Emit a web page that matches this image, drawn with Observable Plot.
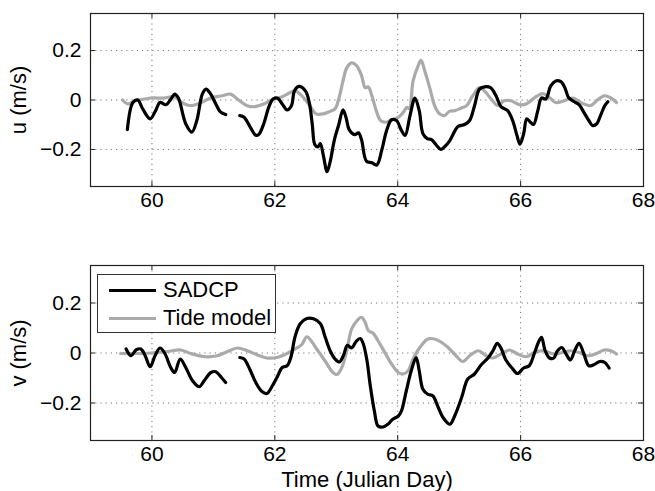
<!DOCTYPE html>
<html><head><meta charset="utf-8">
<script src="https://cdn.jsdelivr.net/npm/d3@7"></script>
<script src="https://cdn.jsdelivr.net/npm/@observablehq/plot@0.6"></script>
<style>
body{margin:0;background:#fff;}
#wrap{position:relative;width:655px;height:491px;font-family:"Liberation Sans",Arial,Helvetica,sans-serif;background:#fff;}
#wrap svg{display:block;}
#wrap svg g[aria-label="x-axis tick label"], #wrap svg g[aria-label="y-axis tick label"]{font-size:21px !important;}
#wrap svg g[aria-label="x-axis tick label"] text, #wrap svg g[aria-label="y-axis tick label"] text{font-size:21px !important;}
#wrap svg g[aria-label="x-axis label"] text, #wrap svg g[aria-label="y-axis label"] text{font-size:22px !important;}
#legend{position:absolute;left:97px;top:274px;width:177px;height:57px;border:1px solid #333;background:#fff;font-size:22px;color:#000;}
.lg-line{position:absolute;left:11px;width:47px;height:3px;}
.lg-text{position:absolute;left:65px;line-height:24px;white-space:nowrap;}
</style>
</head><body>
<div id="wrap"><div id="top"></div><div id="bottom"></div>
<div id="legend"></div></div>
<script>
const xTicks = [60, 62, 64, 66, 68];
const yTicks = [-0.2, 0, 0.2];
const seriesNames = ["SADCP", "Tide model"];
const seriesColors = ["#000000", "#aaaaaa"];

// u component: [day, m/s]; null = gap in record
const uSadcp = [[59.60,-0.12],[59.69,-0.01],[59.77,0.00],[59.85,-0.036],[59.97,-0.076],[60.06,-0.043],[60.13,-0.01],[60.23,-0.019],[60.31,0.004],[60.37,0.024],[60.43,0.008],[60.55,-0.096],[60.65,-0.13],[60.73,-0.083],[60.82,0.024],[60.88,0.044],[60.94,0.03],[61.04,-0.016],[61.11,-0.047],[61.20,-0.059],
[61.3,null],
[61.43,-0.063],[61.50,-0.07],[61.60,-0.11],[61.69,-0.143],[61.74,-0.139],[61.82,-0.096],[61.90,-0.03],[61.97,0.004],[62.04,0.008],[62.12,-0.016],[62.20,-0.04],[62.27,-0.023],[62.32,0.037],[62.39,0.055],[62.50,0.036],[62.56,-0.01],[62.61,-0.10],[62.65,-0.18],[62.70,-0.19],[62.74,-0.176],[62.79,-0.225],[62.85,-0.29],[62.90,-0.25],[62.97,-0.16],[63.04,-0.10],[63.11,-0.04],[63.16,-0.072],[63.21,-0.12],[63.30,-0.14],[63.36,-0.133],[63.41,-0.16],[63.49,-0.247],[63.58,-0.254],[63.66,-0.263],[63.74,-0.203],[63.82,-0.123],[63.90,-0.08],[63.98,-0.083],[64.06,-0.123],[64.12,-0.143],[64.20,-0.063],[64.28,0.008],[64.35,-0.043],[64.41,-0.136],[64.48,-0.156],[64.55,-0.16],[64.63,-0.183],[64.70,-0.2],[64.76,-0.19],[64.85,-0.163],[64.93,-0.125],[64.98,-0.107],[65.09,-0.099],[65.17,-0.083],[65.25,-0.023],[65.33,0.044],[65.41,0.053],[65.51,0.05],[65.60,0.017],[65.68,-0.027],[65.79,-0.043],[65.87,-0.083],[65.94,-0.143],[65.99,-0.179],[66.05,-0.136],[66.10,-0.076],[66.16,-0.09],[66.21,-0.099],[66.28,-0.043],[66.34,0.008],[66.41,0.004],[66.49,0.057],[66.57,0.077],[66.65,0.075],[66.72,0.05],[66.78,0.01],[66.86,-0.005],[66.95,-0.019],[67.03,-0.05],[67.11,-0.083],[67.17,-0.103],[67.24,-0.096],[67.30,-0.063],[67.37,-0.023],[67.42,-0.007]];

const uTide = [[59.52,0.0],[59.61,-0.016],[59.71,-0.005],[59.88,0.004],[60.01,0.008],[60.20,0.008],[60.36,0.013],[60.49,-0.01],[60.63,-0.023],[60.77,-0.014],[60.96,0.008],[61.14,0.017],[61.28,0.024],[61.41,0.0],[61.55,-0.023],[61.68,-0.027],[61.82,-0.016],[61.95,0.0],[62.12,0.013],[62.25,0.03],[62.33,0.037],[62.44,0.017],[62.57,-0.023],[62.67,-0.056],[62.79,-0.056],[62.90,-0.046],[62.98,-0.036],[63.04,0.004],[63.11,0.077],[63.17,0.13],[63.25,0.15],[63.33,0.139],[63.41,0.10],[63.47,0.05],[63.52,0.053],[63.58,0.017],[63.65,-0.043],[63.72,-0.083],[63.80,-0.09],[63.90,-0.08],[64.01,-0.07],[64.09,-0.05],[64.15,-0.03],[64.19,-0.035],[64.25,0.077],[64.33,0.137],[64.38,0.16],[64.44,0.117],[64.52,0.05],[64.60,-0.023],[64.68,-0.056],[64.76,-0.063],[64.84,-0.046],[64.93,-0.043],[65.04,-0.032],[65.12,-0.023],[65.22,0.017],[65.33,0.05],[65.41,0.037],[65.52,0.004],[65.63,-0.023],[65.73,-0.003],[65.84,-0.003],[65.98,-0.019],[66.09,-0.016],[66.22,0.008],[66.36,0.026],[66.47,0.01],[66.57,-0.01],[66.71,-0.003],[66.85,0.008],[67.01,-0.014],[67.14,-0.023],[67.25,0.0],[67.36,0.017],[67.47,0.008],[67.56,-0.01]];

// v component
const vSadcp = [[59.58,0.016],[59.66,-0.011],[59.74,0.012],[59.82,0.016],[59.89,-0.011],[59.97,-0.055],[60.05,-0.011],[60.13,0.02],[60.21,-0.002],[60.31,-0.06],[60.37,-0.078],[60.46,-0.024],[60.55,-0.058],[60.66,-0.111],[60.77,-0.135],[60.85,-0.111],[60.96,-0.078],[61.04,-0.075],[61.13,-0.098],[61.20,-0.118],
[61.3,null],
[61.43,-0.018],[61.50,-0.024],[61.59,-0.064],[61.69,-0.118],[61.79,-0.154],[61.87,-0.162],[61.96,-0.131],[62.04,-0.095],[62.12,-0.058],[62.20,-0.051],[62.26,-0.018],[62.33,0.066],[62.41,0.116],[62.52,0.138],[62.63,0.137],[62.74,0.118],[62.82,0.063],[62.90,0.009],[62.98,-0.024],[63.05,-0.036],[63.12,-0.008],[63.18,0.031],[63.25,0.02],[63.32,0.045],[63.39,0.058],[63.44,0.036],[63.50,-0.031],[63.55,-0.125],[63.62,-0.232],[63.68,-0.292],[63.76,-0.296],[63.84,-0.285],[63.92,-0.265],[64.01,-0.252],[64.06,-0.232],[64.14,-0.151],[64.22,-0.071],[64.30,-0.018],[64.35,-0.071],[64.41,-0.145],[64.49,-0.165],[64.57,-0.171],[64.66,-0.218],[64.74,-0.259],[64.85,-0.285],[64.93,-0.25],[65.04,-0.178],[65.14,-0.104],[65.25,-0.084],[65.36,-0.047],[65.47,-0.02],[65.55,0.009],[65.62,0.039],[65.68,0.02],[65.76,-0.028],[65.86,-0.06],[65.95,-0.082],[66.05,-0.06],[66.14,-0.051],[66.22,-0.004],[66.29,0.043],[66.34,0.063],[66.40,0.009],[66.47,-0.02],[66.54,-0.02],[66.60,0.009],[66.67,0.022],[66.74,-0.004],[66.81,-0.028],[66.88,0.009],[66.95,0.039],[67.03,-0.004],[67.11,-0.051],[67.19,-0.047],[67.29,-0.034],[67.37,-0.038],[67.44,-0.06]];

const vTide = [[59.49,-0.002],[59.71,-0.002],[59.98,0.0],[60.25,0.006],[60.47,0.012],[60.63,-0.002],[60.87,-0.015],[61.06,-0.011],[61.23,0.006],[61.39,0.02],[61.55,0.009],[61.71,-0.007],[61.87,-0.02],[62.03,-0.018],[62.20,-0.002],[62.33,0.016],[62.44,0.034],[62.52,0.065],[62.60,0.046],[62.67,0.02],[62.74,-0.004],[62.85,-0.044],[62.93,-0.074],[63.01,-0.086],[63.09,-0.058],[63.17,0.009],[63.25,0.096],[63.34,0.13],[63.41,0.143],[63.47,0.123],[63.52,0.09],[63.60,0.079],[63.68,0.049],[63.79,0.002],[63.90,-0.044],[64.01,-0.078],[64.09,-0.084],[64.17,-0.071],[64.25,-0.024],[64.36,0.022],[64.49,0.056],[64.60,0.056],[64.71,0.043],[64.82,0.022],[64.93,-0.006],[65.06,-0.034],[65.17,-0.011],[65.31,0.009],[65.44,-0.011],[65.55,-0.02],[65.68,-0.004],[65.82,0.012],[65.95,-0.004],[66.09,-0.015],[66.22,0.002],[66.38,0.009],[66.54,-0.004],[66.68,0.002],[66.81,0.009],[66.95,0.002],[67.09,-0.011],[67.22,-0.004],[67.36,0.012],[67.47,0.009],[67.56,-0.004]];

const fmtY = d => d === 0 ? "0" : (d < 0 ? "\u2212" : "") + Math.abs(d);
const FONT = '"Liberation Sans", Arial, Helvetica, sans-serif';

function panel(sadcp, tide, yLabel, xLabel, height, mt, mb) {
  return Plot.plot({
    width: 655, height, marginLeft: 90, marginRight: 12, marginTop: mt, marginBottom: mb,
    style: {fontFamily: FONT, fontSize: "21px", color: "#000", background: "#fff", overflow: "visible"},
    x: {domain: [59, 68]},
    y: {domain: [-0.35, 0.35]},
    marks: [
      Plot.ruleX(xTicks, {stroke: "#777", strokeWidth: 1, strokeDasharray: "1.2,4"}),
      Plot.ruleY(yTicks, {stroke: "#777", strokeWidth: 1, strokeDasharray: "1.2,4"}),
      Plot.ruleX(xTicks, {x: d => d, y1: -0.35, y2: -0.33, stroke: "#222"}),
      Plot.ruleX(xTicks, {x: d => d, y1: 0.33, y2: 0.35, stroke: "#222"}),
      Plot.ruleY(yTicks, {y: d => d, x1: 59, x2: 59.08, stroke: "#222"}),
      Plot.ruleY(yTicks, {y: d => d, x1: 67.92, x2: 68, stroke: "#222"}),
      Plot.line(tide, {x: d => d[0], y: d => d[1], stroke: seriesColors[1], strokeWidth: 3.2, curve: "catmull-rom"}),
      Plot.line(sadcp, {x: d => d[0], y: d => d[1], stroke: seriesColors[0], strokeWidth: 3.2, curve: "catmull-rom"}),
      Plot.frame({stroke: "#222", strokeWidth: 1.2}),
      Plot.axisX(xTicks, {tickSize: 0, tickPadding: 6, fontSize: 21, label: xLabel, labelAnchor: "center", labelOffset: 46, labelArrow: "none"}),
      Plot.axisY(yTicks, {tickSize: 0, tickPadding: 9, fontSize: 21, tickFormat: fmtY, label: yLabel, labelAnchor: "center", labelOffset: 80, labelArrow: "none"})
    ]
  });
}

document.getElementById("top").append(panel(uSadcp, uTide, "u (m/s)", null, 240, 13, 54));
document.getElementById("bottom").append(panel(vSadcp, vTide, "v (m/s)", "Time (Julian Day)", 251, 25, 51));

const lg = document.getElementById("legend");
seriesNames.forEach((name, i) => {
  const cy = i === 0 ? 15 : 43;
  const ln = document.createElement("div");
  ln.className = "lg-line";
  ln.style.top = (cy - 1.5) + "px";
  ln.style.background = seriesColors[i];
  const tx = document.createElement("div");
  tx.className = "lg-text";
  tx.style.top = (cy - 12) + "px";
  tx.textContent = name;
  lg.append(ln, tx);
});
</script>
</body></html>
